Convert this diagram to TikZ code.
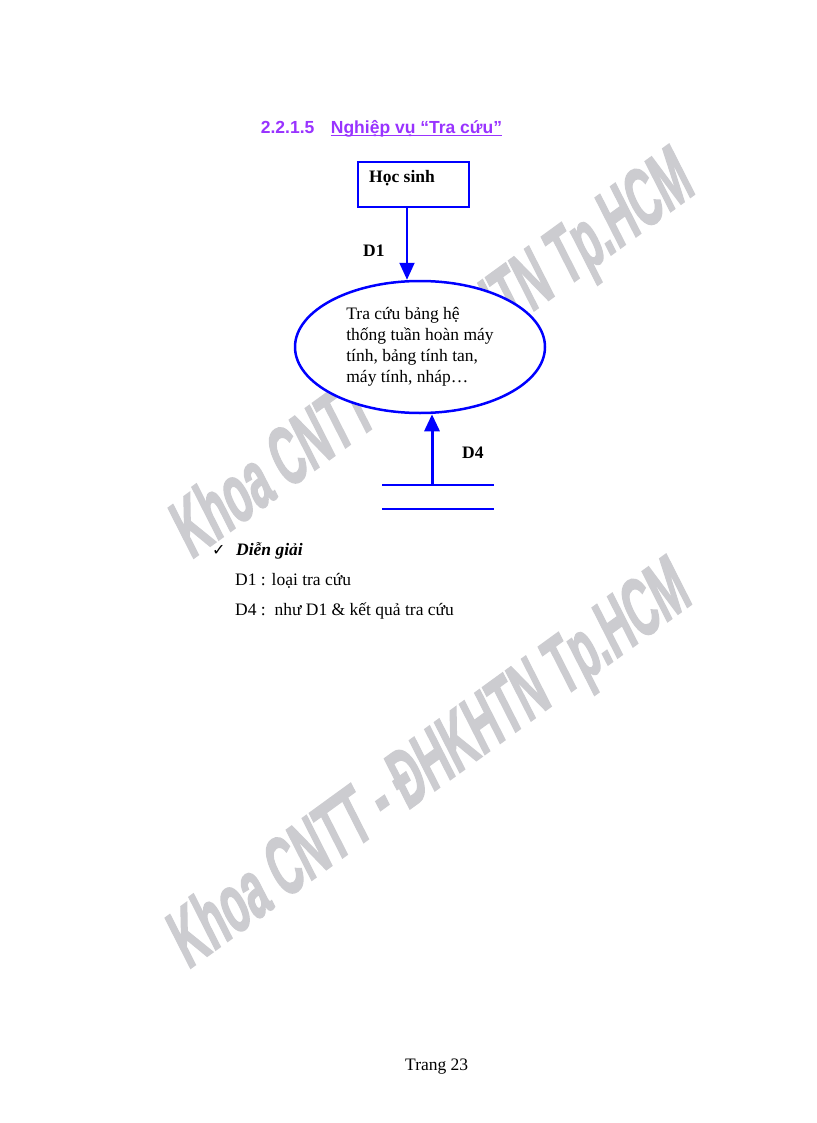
\documentclass[tikz,border=0pt]{standalone}
\usepackage{fontspec}
\setmainfont{Liberation Serif}
\newfontfamily\arialfont{Liberation Sans}
\newfontfamily\wmfont{Liberation Sans}[BoldFeatures={FakeBold=2.5}]
\newfontfamily\symfont{DejaVu Sans}
\usetikzlibrary{arrows.meta,shapes.geometric}
\definecolor{dfdblue}{RGB}{0,0,255}
\definecolor{titlepurple}{RGB}{153,51,255}
\definecolor{wmgray}{RGB}{204,204,208}
\begin{document}
\begin{tikzpicture}[x=1pt,y=-1pt,
  txt/.style={inner sep=0pt, anchor=base west, font=\fontsize{17.5}{21}\selectfont},
  boldtxt/.style={inner sep=0pt, anchor=base west, font=\fontsize{17.5}{21}\selectfont\bfseries},
  titletxt/.style={inner sep=0pt, anchor=base west, text=titlepurple, font=\arialfont\bfseries\fontsize{17.5}{21}\selectfont},
  entity/.style={draw=dfdblue, line width=2.7pt, fill=white, minimum width=111pt, minimum height=45pt, inner sep=0pt},
  process/.style={ellipse, draw=dfdblue, line width=2.5pt, fill=white, minimum width=250pt, minimum height=132pt, inner sep=0pt, align=left, font=\fontsize{17.5}{21}\selectfont},
  flow/.style={draw=dfdblue, line width=2pt, -{Triangle[length=17pt,width=15pt]}},
  storeline/.style={draw=dfdblue, line width=2pt},
  wm/.style={inner sep=0pt, anchor=base, text=wmgray, font=\wmfont\bfseries\fontsize{80}{80}\selectfont}
]
\useasboundingbox (0,0) rectangle (816,1123);
\fill[white] (0,0) rectangle (816,1123);

% watermarks
\begin{scope}[shift={(444,376)}, rotate=36, xslant=0.16, transform shape]
  \node[wm] (wm1) at (0,0) {\scalebox{0.535}[1]{Khoa CNTT - ĐHKHTN Tp.HCM}};
\end{scope}
\begin{scope}[shift={(441,786)}, rotate=36, xslant=0.16, transform shape]
  \node[wm] (wm2) at (0,0) {\scalebox{0.535}[1]{Khoa CNTT - ĐHKHTN Tp.HCM}};
\end{scope}

% title
\node[titletxt] (num) at (260.7,133.3) {2.2.1.5};
\node[titletxt] (ttl) at (330.7,133.3) {Nghiệp vụ “Tra cứu”};
\draw[titlepurple, line width=1.3pt] ([yshift=-2.5pt]ttl.base west) -- ([yshift=-2.5pt]ttl.base east);

% diagram
\node[entity] (hs) at (413.5,184.5) {};
\node[boldtxt] (hslabel) at (369,183) {Học sinh};
\node[process] (proc) at (420,347) {Tra cứu bảng hệ\\thống tuần hoàn máy\\tính, bảng tính tan,\\máy tính, nháp…};
\coordinate (d1x) at (407,0);
\coordinate (d4x) at (432,0);
\draw[flow] (hs.south -| d1x) -- (proc.north -| d1x);
\node[boldtxt] (d1) at (363,256) {D1};

\node[inner sep=0pt, outer sep=0pt, minimum width=112pt, minimum height=24pt] (store) at (438,497) {};
\draw[storeline] (store.north west) -- (store.north east);
\draw[storeline] (store.south west) -- (store.south east);
\draw[flow, line width=3pt] (store.north -| d4x) -- (proc.south -| d4x);
\node[boldtxt] (d4) at (462,458) {D4};

% explanation
\node[inner sep=0pt, anchor=base west, font=\symfont\fontsize{16}{16}\selectfont] (chk) at (212,555) {✓};
\node[inner sep=0pt, anchor=base west, font=\fontsize{17.5}{21}\selectfont\bfseries\itshape] (dg) at (236,555) {Diễn giải};
\node[txt] (l1) at (235,585) {D1 : loại tra cứu};
\node[txt] (l2) at (235,615) {D4 :\ \ như D1 \& kết quả tra cứu};

\node[txt] (pg) at (405,1070) {Trang 23};
\end{tikzpicture}
\end{document}
